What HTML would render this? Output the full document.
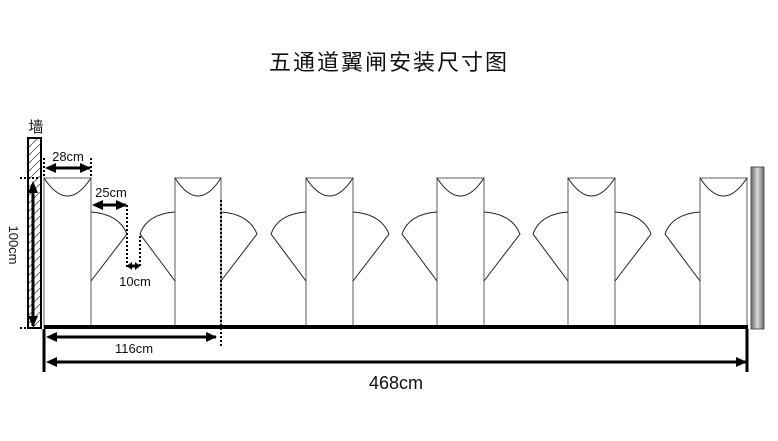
<!DOCTYPE html>
<html><head><meta charset="utf-8"><style>
html,body{margin:0;padding:0;background:#fff;}
svg{display:block;}
text{font-family:"Liberation Sans","Noto Sans CJK SC",sans-serif;fill:#111;}
</style></head><body>
<svg width="778" height="441" viewBox="0 0 778 441" xmlns="http://www.w3.org/2000/svg">
<defs>
<marker id="a" markerWidth="11" markerHeight="10" refX="10" refY="5" orient="auto" markerUnits="userSpaceOnUse"><path d="M0,0 L11,5 L0,10 z" fill="#000"/></marker>
<pattern id="h" width="8" height="8" patternUnits="userSpaceOnUse"><path d="M0,8 L8,0" stroke="#555" stroke-width="0.8"/></pattern>
<linearGradient id="g" x1="0" x2="1"><stop offset="0" stop-color="#666"/><stop offset="0.5" stop-color="#ddd"/><stop offset="1" stop-color="#666"/></linearGradient>
</defs>
<text x="389" y="70" font-size="22" text-anchor="middle" letter-spacing="2">五通道翼闸安装尺寸图</text>

<text x="36" y="132" font-size="15" text-anchor="middle">墙</text>
<rect x="28" y="138" width="13" height="190" fill="url(#h)" stroke="#000" stroke-width="2"/>

<g fill="none" stroke="#777" stroke-width="1.2">
<rect x="44" y="178" width="47" height="149"/>
<rect x="175" y="178" width="46" height="149"/>
<rect x="306" y="178" width="47" height="149"/>
<rect x="437" y="178" width="47" height="149"/>
<rect x="568" y="178" width="47" height="149"/>
<rect x="700" y="178" width="47" height="149"/>
</g>
<g fill="none" stroke="#222" stroke-width="1">
<path d="M44 178 Q67.5 214 91 178"/>
<path d="M175 178 Q198 214 221 178"/>
<path d="M306 178 Q329.5 214 353 178"/>
<path d="M437 178 Q460.5 214 484 178"/>
<path d="M568 178 Q591.5 214 615 178"/>
<path d="M700 178 Q723.5 214 747 178"/>
<path d="M91 212 Q119 214 127 234 L91 281"/>
<path d="M221 212 Q249 214 257 234 L221 281"/>
<path d="M353 212 Q381 214 389 234 L353 281"/>
<path d="M484 212 Q512 214 520 234 L484 281"/>
<path d="M615 212 Q643 214 651 234 L615 281"/>
<path d="M175 212 Q147 214 140 234 L175 281"/>
<path d="M306 212 Q278 214 271 234 L306 281"/>
<path d="M437 212 Q409 214 402 234 L437 281"/>
<path d="M568 212 Q540 214 533 234 L568 281"/>
<path d="M700 212 Q672 214 665 234 L700 281"/>
</g>

<rect x="44" y="325" width="704" height="4" fill="#000"/>
<rect x="751" y="167" width="13" height="162" fill="url(#g)" stroke="#555" stroke-width="1"/>

<g stroke="#000" stroke-width="2" stroke-dasharray="2,2" fill="none">
<line x1="44" y1="158" x2="44" y2="178"/>
<line x1="91" y1="158" x2="91" y2="178"/>
<line x1="127" y1="205" x2="127" y2="268"/>
<line x1="140" y1="236" x2="140" y2="268"/>
<line x1="221" y1="200" x2="221" y2="346"/>
<line x1="20" y1="178" x2="44" y2="178"/>
<line x1="20" y1="328" x2="44" y2="328"/>
</g>

<g stroke="#000" stroke-width="3" fill="none">
<line x1="54" y1="168" x2="90" y2="168" marker-end="url(#a)"/>
<line x1="101" y1="205" x2="126" y2="205" marker-end="url(#a)"/>
<line x1="33" y1="193" x2="33" y2="326" marker-end="url(#a)"/>
<line x1="128" y1="266" x2="139" y2="266"/>
<line x1="55" y1="337" x2="216" y2="337" marker-end="url(#a)"/>
<line x1="55" y1="362" x2="746" y2="362" marker-end="url(#a)"/>
<line x1="44" y1="329" x2="44" y2="372"/>
<line x1="747" y1="329" x2="747" y2="372"/>
</g>
<g fill="#000">
<path d="M45 168 L56 163 L56 173 z"/>
<path d="M92 205 L103 200 L103 210 z"/>
<path d="M33 181 L28 193 L38 193 z"/>
<path d="M46 337 L57 332 L57 342 z"/>
<path d="M46 362 L57 357 L57 367 z"/>
<path d="M127 266 L132 262 L132 270 z"/>
<path d="M140 266 L135 262 L135 270 z"/>
</g>

<text x="68" y="161" font-size="13" text-anchor="middle">28cm</text>
<text x="111" y="197" font-size="13" text-anchor="middle">25cm</text>
<text x="135" y="286" font-size="13" text-anchor="middle">10cm</text>
<text x="134" y="353" font-size="13" text-anchor="middle">116cm</text>
<text x="396" y="389" font-size="18" text-anchor="middle">468cm</text>
<text x="0" y="0" font-size="13" text-anchor="middle" transform="translate(9,245) rotate(90)">100cm</text>
</svg>
</body></html>
